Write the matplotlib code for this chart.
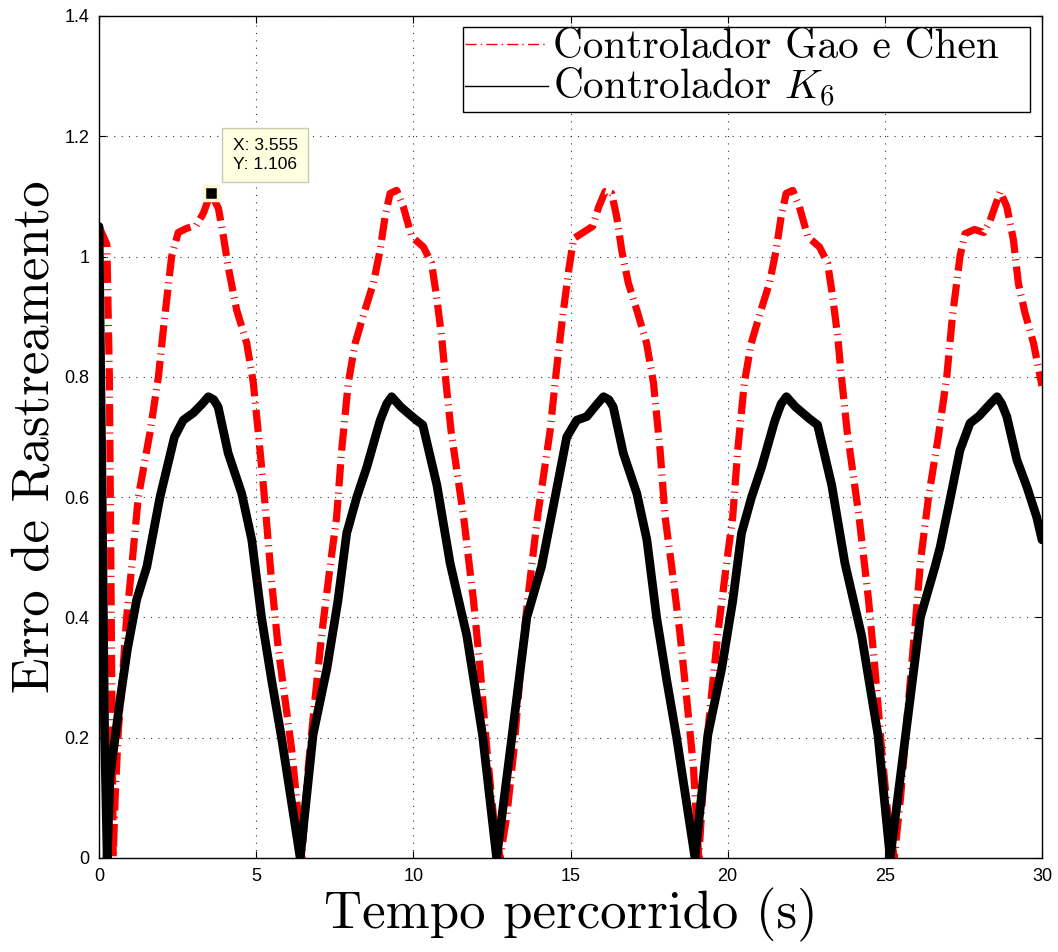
import matplotlib

matplotlib.use("Agg")
import matplotlib.pyplot as plt
from matplotlib.lines import Line2D

# Erro de rastreamento - Controlador Gao e Chen (tracejado vermelho)
T_GAO = [0.00, 0.25, 0.33, 0.39, 0.45,
         0.51, 0.61, 0.77, 0.88, 1.04, 1.25, 1.62, 1.89, 2.05, 2.18, 2.31, 2.52, 2.79, 3.10, 3.32, 3.555,
         3.80, 3.96, 4.11, 4.38, 4.70, 4.91, 5.10, 5.28, 5.49, 5.70, 5.92, 6.13, 6.29, 6.45,
         6.66, 6.87, 7.09, 7.35, 7.56, 7.72, 7.93, 8.15, 8.46, 8.73, 8.94, 9.10, 9.26, 9.47,
         9.68, 9.95, 10.32, 10.58, 10.74, 10.90, 11.00, 11.20, 11.60, 11.91, 12.12, 12.34, 12.55, 12.76,
         12.97, 13.20, 13.42, 13.64, 13.95, 14.35, 14.55, 14.75, 14.95, 15.10, 15.40, 15.70, 15.90, 16.10,
         16.31, 16.47, 16.63, 16.84, 17.11, 17.42, 17.64, 17.85, 18.01, 18.22, 18.48, 18.70, 18.91, 19.08,
         19.26, 19.47, 19.69, 19.95, 20.16, 20.32, 20.53, 20.75, 21.06, 21.33, 21.54, 21.70, 21.86, 22.07,
         22.28, 22.55, 22.92, 23.18, 23.34, 23.50, 23.60, 23.80, 24.18, 24.48, 24.68, 24.90, 25.10, 25.30,
         25.50, 25.72, 25.95, 26.15, 26.39, 26.70, 26.97, 27.15, 27.39, 27.55, 27.85, 28.15, 28.35, 28.67,
         28.88, 29.09, 29.25, 29.46, 29.73, 30.00]
Y_GAO = [1.05, 1.02, 0.80, 0.40, 0.00,
         0.096, 0.208, 0.318, 0.400, 0.484, 0.600, 0.707, 0.800, 0.880, 0.940, 1.000, 1.040, 1.047, 1.052, 1.072, 1.106,
         1.080, 1.033, 0.983, 0.911, 0.856, 0.790, 0.690, 0.590, 0.460, 0.350, 0.263, 0.180, 0.096, 0.000,
         0.152, 0.263, 0.374, 0.484, 0.567, 0.678, 0.790, 0.856, 0.911, 0.956, 1.010, 1.066, 1.105, 1.110,
         1.083, 1.033, 1.016, 0.989, 0.933, 0.867, 0.810, 0.710, 0.567, 0.430, 0.318, 0.180, 0.069, 0.000,
         0.069, 0.180, 0.318, 0.430, 0.567, 0.710, 0.810, 0.900, 0.980, 1.030, 1.040, 1.050, 1.083, 1.108,
         1.105, 1.066, 1.010, 0.956, 0.911, 0.856, 0.790, 0.678, 0.567, 0.484, 0.374, 0.263, 0.152, 0.000,
         0.152, 0.263, 0.374, 0.484, 0.567, 0.678, 0.790, 0.856, 0.911, 0.956, 1.010, 1.066, 1.105, 1.110,
         1.083, 1.033, 1.016, 0.989, 0.933, 0.867, 0.810, 0.710, 0.567, 0.430, 0.318, 0.180, 0.069, 0.000,
         0.100, 0.240, 0.380, 0.500, 0.600, 0.700, 0.800, 0.900, 1.000, 1.038, 1.045, 1.040, 1.060, 1.108,
         1.083, 1.028, 0.955, 0.906, 0.856, 0.785]

# Erro de rastreamento - Controlador K6 (linha preta)
T_K6 = [0.00, 0.10, 0.18, 0.26,
        0.35, 0.67, 0.90, 1.20, 1.52, 1.94, 2.40, 2.68, 3.00, 3.28, 3.48, 3.65, 3.79, 4.11, 4.54, 4.86,
        5.17, 5.49, 5.81, 6.40,
        6.81, 7.25, 7.60, 7.88, 8.20, 8.52, 8.94, 9.15, 9.31, 9.60, 10.05, 10.30, 10.75, 11.17, 11.70,
        12.20, 12.65,
        13.13, 13.61, 14.08, 14.51, 14.88, 15.20, 15.52, 15.85, 16.05, 16.22, 16.36, 16.68, 17.11, 17.43,
        17.74, 18.06, 18.38, 18.96,
        19.37, 19.81, 20.16, 20.44, 20.76, 21.08, 21.50, 21.70, 21.87, 22.16, 22.61, 22.86, 23.31, 23.73,
        24.26, 24.78, 25.17,
        25.65, 26.13, 26.60, 26.76, 27.07, 27.39, 27.71, 28.00, 28.35, 28.57, 28.72, 28.88, 29.20, 29.52,
        29.83, 30.00]
Y_K6 = [1.05, 0.60, 0.20, 0.00,
        0.135, 0.263, 0.346, 0.430, 0.484, 0.600, 0.700, 0.728, 0.740, 0.755, 0.767, 0.762, 0.750, 0.673,
        0.606, 0.529, 0.400, 0.296, 0.199, 0.000,
        0.205, 0.315, 0.427, 0.540, 0.600, 0.650, 0.727, 0.755, 0.767, 0.750, 0.730, 0.720, 0.620, 0.490,
        0.370, 0.205, 0.000,
        0.199, 0.400, 0.485, 0.600, 0.700, 0.728, 0.734, 0.755, 0.767, 0.762, 0.750, 0.673, 0.606, 0.529,
        0.400, 0.296, 0.199, 0.000,
        0.205, 0.315, 0.427, 0.540, 0.600, 0.650, 0.727, 0.755, 0.767, 0.750, 0.730, 0.720, 0.620, 0.490,
        0.370, 0.205, 0.000,
        0.200, 0.400, 0.485, 0.517, 0.595, 0.678, 0.723, 0.735, 0.755, 0.767, 0.755, 0.734, 0.662, 0.617,
        0.567, 0.529]

X_TICKS = [0, 5, 10, 15, 20, 25, 30]
Y_TICKS = [0, 0.2, 0.4, 0.6, 0.8, 1.0, 1.2, 1.4]
Y_TICK_LABELS = ["0", "0.2", "0.4", "0.6", "0.8", "1", "1.2", "1.4"]
LABELS = ["Controlador Gao e Chen", r"Controlador $K_6$"]
TIP_X, TIP_Y = 3.555, 1.106

plt.rcParams["lines.scale_dashes"] = False
plt.rcParams["mathtext.fontset"] = "cm"

fig = plt.figure(figsize=(10.58, 9.52), dpi=100)
ax = fig.add_axes([99 / 1058, 1 - 858 / 952, 943 / 1058, 842 / 952])

ax.plot(T_GAO, Y_GAO, color="red", lw=5.2, dashes=(16, 4.5, 0.8, 4.5),
        dash_capstyle="butt", dash_joinstyle="round")
ax.plot(T_K6, Y_K6, color="black", lw=6.3, solid_joinstyle="round", solid_capstyle="round")

# datatip
ax.plot(TIP_X, TIP_Y, marker="s", ms=10, mfc="black", mec="#fbf7d2", mew=2.5, zorder=5)
ax.annotate(f"X: {TIP_X}\nY: {TIP_Y}", xy=(TIP_X, TIP_Y), xytext=(22, 21), textcoords="offset pixels",
            ha="left", va="bottom", fontsize=12.5, family="Liberation Sans", linespacing=1.3,
            bbox=dict(boxstyle="square,pad=0.6", fc="#ffffe1", ec="#c9c9b4", lw=1), zorder=6)

ax.set_xlim(0, 30)
ax.set_ylim(0, 1.4)
ax.set_xticks(X_TICKS)
ax.set_yticks(Y_TICKS)
ax.set_yticklabels(Y_TICK_LABELS)
ax.tick_params(direction="in", top=True, right=True, length=5, width=0.8, labelsize=13, pad=7)
for lbl in ax.get_xticklabels() + ax.get_yticklabels():
    lbl.set_family("Liberation Sans")
ax.grid(True, color="#333333", lw=0.8, linestyle=(0, (0.8, 4.5)))
for sp in ax.spines.values():
    sp.set_linewidth(1.0)

ax.set_xlabel("Tempo percorrido (s)", family="cmr10", fontsize=38, labelpad=2)
ax.set_ylabel("Erro de Rastreamento", family="cmr10", fontsize=38, labelpad=4)

handles = [Line2D([], [], color="red", lw=1, linestyle=(0, (8, 3, 1, 3))),
           Line2D([], [], color="black", lw=1)]
leg = ax.legend(handles, LABELS, loc="upper left", mode="expand",
                bbox_to_anchor=(0.386, 0.0, 0.601, 0.987),
                prop={"family": "cmr10", "size": 29.7},
                fancybox=False, edgecolor="black", framealpha=1, borderaxespad=0.0,
                borderpad=0.05, labelspacing=0.0, handlelength=2.0, handletextpad=0.12)
leg.get_frame().set_linewidth(1.0)

fig.savefig("out.png", dpi=100)
